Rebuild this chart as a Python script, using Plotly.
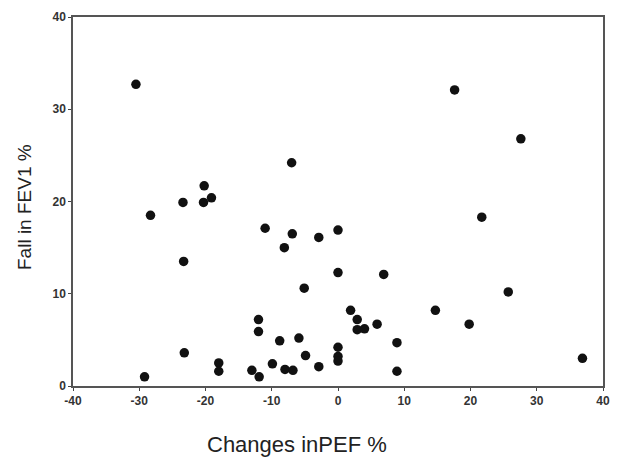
import plotly.graph_objects as go

pef_change = [-30.5, -29.2, -28.3, -23.4, -23.3, -23.2, -20.2, -20.3, -19.1, -18.0,
              -18.0, -13.0, -11.9, -12.0, -12.0, -11.0, -9.9, -8.8, -8.0, -6.8,
              -8.1, -6.9, -7.0, -5.9, -5.1, -4.9, -2.9, -2.9, 0.0, 0.0,
              0.0, 0.0, 0.0, 1.9, 2.9, 2.9, 4.0, 5.9, 6.9, 8.9,
              8.9, 14.7, 17.6, 19.8, 21.7, 25.7, 27.6, 36.9]
fev1_fall = [32.7, 1.0, 18.5, 19.9, 13.5, 3.6, 21.7, 19.9, 20.4, 2.5,
             1.6, 1.7, 1.0, 7.2, 5.9, 17.1, 2.4, 4.9, 1.8, 1.7,
             15.0, 16.5, 24.2, 5.2, 10.6, 3.3, 16.1, 2.1, 16.9, 12.3,
             4.2, 3.2, 2.7, 8.2, 7.2, 6.1, 6.2, 6.7, 12.1, 4.7,
             1.6, 8.2, 32.1, 6.7, 18.3, 10.2, 26.8, 3.0]

x_ticks = [-40, -30, -20, -10, 0, 10, 20, 30, 40]
x_tick_labels = ["-40", "-30", "-20", "-10", "0", "10", "20", "30", "40"]
y_ticks = [0, 10, 20, 30, 40]
y_tick_labels = ["0", "10", "20", "30", "40"]

fig = go.Figure()
fig.add_trace(go.Scatter(
    x=pef_change, y=fev1_fall, mode="markers",
    marker=dict(size=9.5, color="#111111", line=dict(width=0)),
    showlegend=False,
))

axis_common = dict(
    showgrid=False, zeroline=False, showline=True, linecolor="#555555",
    linewidth=1.5, mirror=True, ticks="outside", ticklen=3, tickwidth=1,
    tickcolor="#444444", automargin=False,
    tickfont=dict(family="Liberation Sans, Arial", size=12, color="#333333",
                  weight="bold"),
)

fig.update_xaxes(range=[-40, 40], tickvals=x_ticks, ticktext=x_tick_labels, **axis_common)
fig.update_yaxes(range=[0, 40], tickvals=y_ticks, ticktext=y_tick_labels, **axis_common)

# page body has an 8px margin; sizes below compensate for it
L, T, PW, PH = 65, 9, 530, 369
fig.update_layout(
    width=611, height=449,
    margin=dict(l=L, r=611 - L - PW, t=T, b=449 - T - PH, autoexpand=False),
    paper_bgcolor="white", plot_bgcolor="white",
    annotations=[
        dict(text="Changes inPEF %", xref="paper", yref="paper",
             x=(297 - 8 - L) / PW, y=-(444 - 8 - T - PH) / PH,
             xanchor="center", yanchor="middle",
             showarrow=False, font=dict(family="Liberation Sans, Arial", size=22, color="#222222")),
        dict(text="Fall in FEV1 %", xref="paper", yref="paper",
             x=-(L - (24 - 8)) / PW, y=(T + PH - (207 - 8)) / PH,
             xanchor="center", yanchor="middle",
             textangle=-90, showarrow=False,
             font=dict(family="Liberation Sans, Arial", size=19, color="#222222")),
    ],
)

fig.write_html("out.html")
